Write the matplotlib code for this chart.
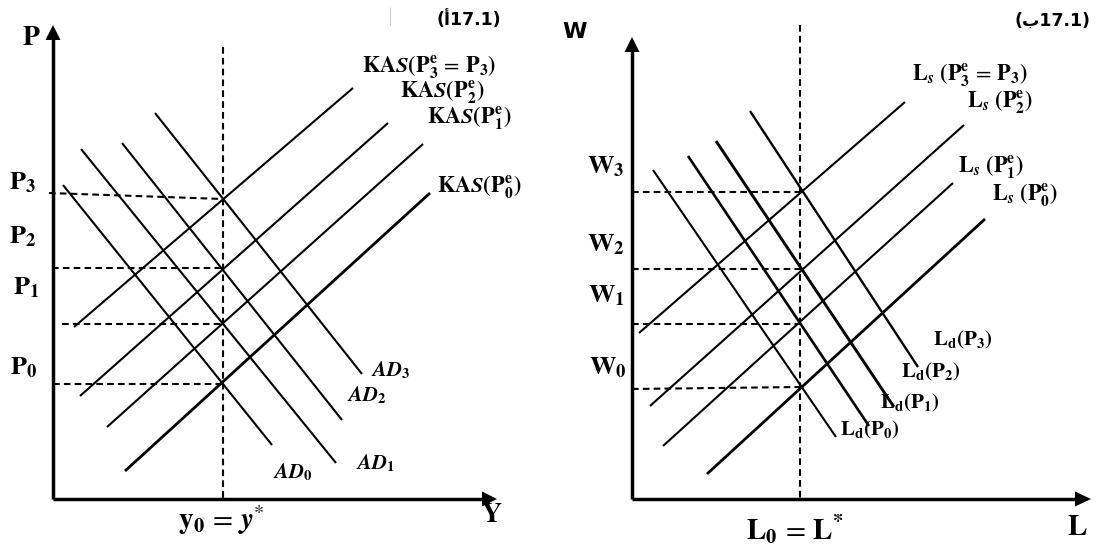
import matplotlib.pyplot as plt
from matplotlib.patches import Polygon

plt.rcParams['mathtext.fontset'] = 'stix'
plt.rcParams['font.family'] = ['STIXGeneral', 'DejaVu Serif']

# panel (a): KAS / AD diagram, end points (pixels)
kas_names = [r'$\mathbf{KA}\mathbfit{S}\mathbf{(P_0^e)}$',
             r'$\mathbf{KA}\mathbfit{S}\mathbf{(P_1^e)}$',
             r'$\mathbf{KA}\mathbfit{S}\mathbf{(P_2^e)}$',
             r'$\mathbf{KA}\mathbfit{S}\mathbf{(P_3^e}\,=\,\mathbf{P_3)}$']
kas_start = [(125, 471), (107, 427), (80, 396), (74, 327)]
kas_end = [(430, 193), (423, 144), (388, 123), (353, 88)]
kas_width = [2.0, 1.5, 1.5, 1.5]

ad_names = [r'$\mathbfit{AD}_\mathbf{0}$', r'$\mathbfit{AD}_\mathbf{1}$',
            r'$\mathbfit{AD}_\mathbf{2}$', r'$\mathbfit{AD}_\mathbf{3}$']
ad_start = [(63, 185), (81, 149), (122, 143), (155, 113)]
ad_end = [(272, 445), (336, 463), (342, 420), (362, 374)]

p_names = [r'$\mathbf{P_0}$', r'$\mathbf{P_1}$', r'$\mathbf{P_2}$', r'$\mathbf{P_3}$']
p_guide_start = [(53, 384), (62, 324), (52, 268), (49, 193)]
p_guide_end = [(223, 384), (223, 324), (223, 268), (223, 199)]
y_star = 223

# panel (b): labour market
ls_names = [r'$\mathbf{L}_\mathbfit{s}\ \mathbf{(P_0^e)}$',
            r'$\mathbf{L}_\mathbfit{s}\ \mathbf{(P_1^e)}$',
            r'$\mathbf{L}_\mathbfit{s}\ \mathbf{(P_2^e)}$',
            r'$\mathbf{L}_\mathbfit{s}\ \mathbf{(P_3^e}\,=\,\mathbf{P_3)}$']
ls_start = [(707, 474), (663, 446), (650, 406), (639, 333)]
ls_end = [(985, 219), (953, 183), (964, 125), (905, 102)]
ls_width = [2.0, 1.5, 1.5, 1.5]

ld_names = [r'$\mathbf{L_d(P_0)}$', r'$\mathbf{L_d(P_1)}$',
            r'$\mathbf{L_d(P_2)}$', r'$\mathbf{L_d(P_3)}$']
ld_start = [(653, 170), (688, 156), (716, 141), (750, 111)]
ld_end = [(836, 437), (869, 426), (894, 407), (918, 367)]
ld_width = [1.5, 1.9, 2.1, 1.7]

w_names = [r'$\mathbf{W_0}$', r'$\mathbf{W_1}$', r'$\mathbf{W_2}$', r'$\mathbf{W_3}$']
w_guide_start = [(632, 389), (632, 324), (632, 269), (632, 192)]
w_guide_end = [(800, 387), (800, 324), (800, 269), (800, 192)]
l_star = 800

# label placement
kas_pos = [(437, 187), (427, 118), (400, 92), (362, 67)]
ad_pos = [(293, 472), (376, 463), (367, 395), (391, 370)]
p_pos = [(24, 368), (26, 288), (23, 237), (23, 183)]
ls_pos = [(1025, 195), (991, 167), (1000, 102), (970, 75)]
ld_pos = [(870, 430), (910, 403), (931, 372), (963, 340)]
w_pos = [(608, 368), (606, 296), (606, 245), (606, 167)]

fig = plt.figure(figsize=(10.99, 5.51), dpi=100)
ax = fig.add_axes([0, 0, 1, 1])
ax.set_xlim(0, 1099)
ax.set_ylim(551, 0)
ax.axis('off')

dash = (0, (3.2, 2.0))


def seg(a, b, **kw):
    ax.plot([a[0], b[0]], [a[1], b[1]], color='black', solid_capstyle='butt', **kw)


def arrow_head(tip, direction, length=15, half=7.5):
    x, y = tip
    if direction == 'up':
        pts = [(x, y), (x - half, y + length), (x + half, y + length)]
    else:
        pts = [(x, y), (x - length, y - half), (x - length, y + half)]
    ax.add_patch(Polygon(pts, closed=True, color='black', lw=0))


# ----- panel (a)
seg((53, 499), (53, 38), lw=2.5)
seg((53, 499), (484, 499), lw=2.5)
arrow_head((53, 25), 'up')
arrow_head((497, 499), 'right')
seg((y_star, 47), (y_star, 499), lw=1.5, linestyle=dash)
for a, b in zip(p_guide_start, p_guide_end):
    seg(a, b, lw=1.5, linestyle=dash)
for a, b, w in zip(kas_start, kas_end, kas_width):
    seg(a, b, lw=w)
for a, b in zip(ad_start, ad_end):
    seg(a, b, lw=1.5)
for name, (x, y) in zip(kas_names, kas_pos):
    ax.text(x, y, name, fontsize=16, ha='left', va='center')
for name, (x, y) in zip(ad_names, ad_pos):
    ax.text(x, y, name, fontsize=15, ha='center', va='center')
for name, (x, y) in zip(p_names, p_pos):
    ax.text(x, y, name, fontsize=19, ha='center', va='center')
ax.text(31, 38, r'$\mathbf{P}$', fontsize=20, ha='center', va='center')
ax.text(221, 520, r'$\mathbf{y_0}\,=\,\mathbfit{y}^{*}$', fontsize=21, ha='center', va='center')
ax.text(492, 515, r'$\mathbf{Y}$', fontsize=20, ha='center', va='center')
ax.text(469, 20, '(أ17.1)', fontsize=12.5, fontweight='bold', family=['DejaVu Sans'],
        ha='center', va='center')
seg((390, 7), (390, 25), lw=0.6, alpha=0.25)

# ----- panel (b)
seg((632, 499), (632, 50), lw=2.5)
seg((632, 499), (1076, 499), lw=2.5)
arrow_head((632, 37), 'up')
arrow_head((1091, 499), 'right', length=16)
seg((l_star, 25), (l_star, 499), lw=1.5, linestyle=dash)
for a, b in zip(w_guide_start, w_guide_end):
    seg(a, b, lw=1.5, linestyle=dash)
for a, b, w in zip(ls_start, ls_end, ls_width):
    seg(a, b, lw=w)
for a, b, w in zip(ld_start, ld_end, ld_width):
    seg(a, b, lw=w)
for name, (x, y) in zip(ls_names, ls_pos):
    ax.text(x, y, name, fontsize=16, ha='center', va='center')
for name, (x, y) in zip(ld_names, ld_pos):
    ax.text(x, y, name, fontsize=15, ha='center', va='center')
for name, (x, y) in zip(w_names, w_pos):
    ax.text(x, y, name, fontsize=19, ha='center', va='center')
ax.text(575, 32, 'W', fontsize=16, fontweight='bold', family=['DejaVu Sans'],
        ha='center', va='center')
ax.text(795, 529, r'$\mathbf{L_0}\,=\,\mathbf{L^{*}}$', fontsize=21, ha='center', va='center')
ax.text(1077, 528, r'$\mathbf{L}$', fontsize=21, ha='center', va='center')
ax.text(1052, 21, '(ب17.1)', fontsize=12.5, fontweight='bold', family=['DejaVu Sans'],
        ha='center', va='center')

fig.savefig('out.png', dpi=100)
